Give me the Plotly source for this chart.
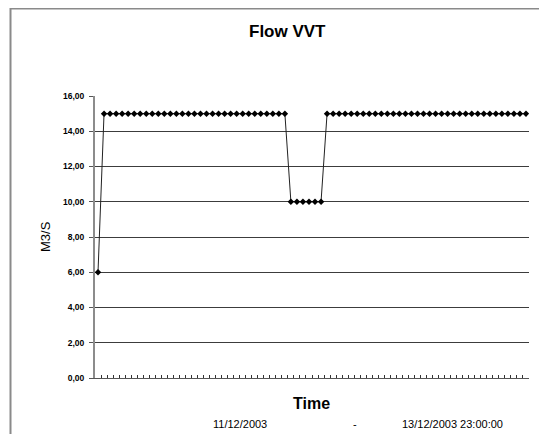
import pandas as pd
import plotly.graph_objects as go

# hourly samples, 11/12/2003 00:00 -> 13/12/2003 23:00
times = pd.date_range("2003-12-11 00:00", "2003-12-13 23:00", freq="h").strftime("%d/%m/%Y %H:%M").tolist()
flow = [
    6, 15, 15, 15, 15, 15, 15, 15, 15, 15, 15, 15,
    15, 15, 15, 15, 15, 15, 15, 15, 15, 15, 15, 15,
    15, 15, 15, 15, 15, 15, 15, 15, 10, 10, 10, 10,
    10, 10, 15, 15, 15, 15, 15, 15, 15, 15, 15, 15,
    15, 15, 15, 15, 15, 15, 15, 15, 15, 15, 15, 15,
    15, 15, 15, 15, 15, 15, 15, 15, 15, 15, 15, 15,
]
y_ticks = [0, 2, 4, 6, 8, 10, 12, 14, 16]

# page body has an 8px margin, so the figure sits 8px in from the window corner
OFF = 8
W, H = 547 - OFF, 434 - OFF
L, R, T, B = 95 - OFF, 18, 96 - OFF, 56
PW, PH = W - L - R, H - T - B


def px(x):
    # window pixel -> paper coordinate
    return (x - OFF - L) / PW


def py(y):
    return (H - B - (y - OFF)) / PH


FONT = "Liberation Sans, Arial, sans-serif"

fig = go.Figure()
fig.add_trace(go.Scatter(
    x=times, y=flow, mode="lines+markers",
    line=dict(color="#222222", width=1),
    marker=dict(symbol="diamond", size=5, color="black"),
    hoverinfo="x+y", showlegend=False,
))

fig.update_layout(
    width=W, height=H,
    margin=dict(l=L, r=R, t=T, b=B),
    paper_bgcolor="white", plot_bgcolor="white",
    separators=",.",
    font=dict(family=FONT, color="black"),
)
fig.update_xaxes(
    type="category", range=[-0.5, len(times) - 0.5],
    showgrid=False, showticklabels=False,
    ticks="inside", tickson="boundaries", dtick=1, ticklen=3, tickcolor="#333333",
    showline=True, linecolor="#555555", linewidth=1,
)
fig.update_yaxes(
    range=[0, 16], tickvals=y_ticks, tickformat=".2f",
    showgrid=True, gridcolor="#3c3c3c", gridwidth=1, zeroline=False,
    ticks="outside", ticklen=4, tickcolor="#555555",
    showline=True, linecolor="#8c8c8c", linewidth=2,
    tickfont=dict(size=8.5, family=FONT, weight="bold"),
    ticklabelstandoff=3,
)

# chart frame (left and top edges)
fig.add_shape(type="line", xref="paper", yref="paper", x0=px(10.5), x1=px(10.5), y0=py(7.5), y1=py(440),
              line=dict(color="#8a8a8a", width=2))
fig.add_shape(type="line", xref="paper", yref="paper", x0=px(10.5), x1=px(555), y0=py(8.5), y1=py(8.5),
              line=dict(color="#8a8a8a", width=2))

notes = [
    ("Flow VVT", 287, 32, 17, "bold", 0),
    ("Time", 311, 403, 16, "bold", 0),
    ("M3/S", 45, 237, 13, "normal", -90),
    ("11/12/2003", 240, 424, 11, "normal", 0),
    ("-", 355, 424, 11, "normal", 0),
    ("13/12/2003 23:00:00", 452, 424, 11, "normal", 0),
]
for text, x, y, size, weight, angle in notes:
    fig.add_annotation(
        text=text, x=px(x), y=py(y), xref="paper", yref="paper",
        showarrow=False, textangle=angle, xanchor="center", yanchor="middle",
        font=dict(size=size, family=FONT, color="black", weight=weight),
    )

fig.write_html("out.html")
